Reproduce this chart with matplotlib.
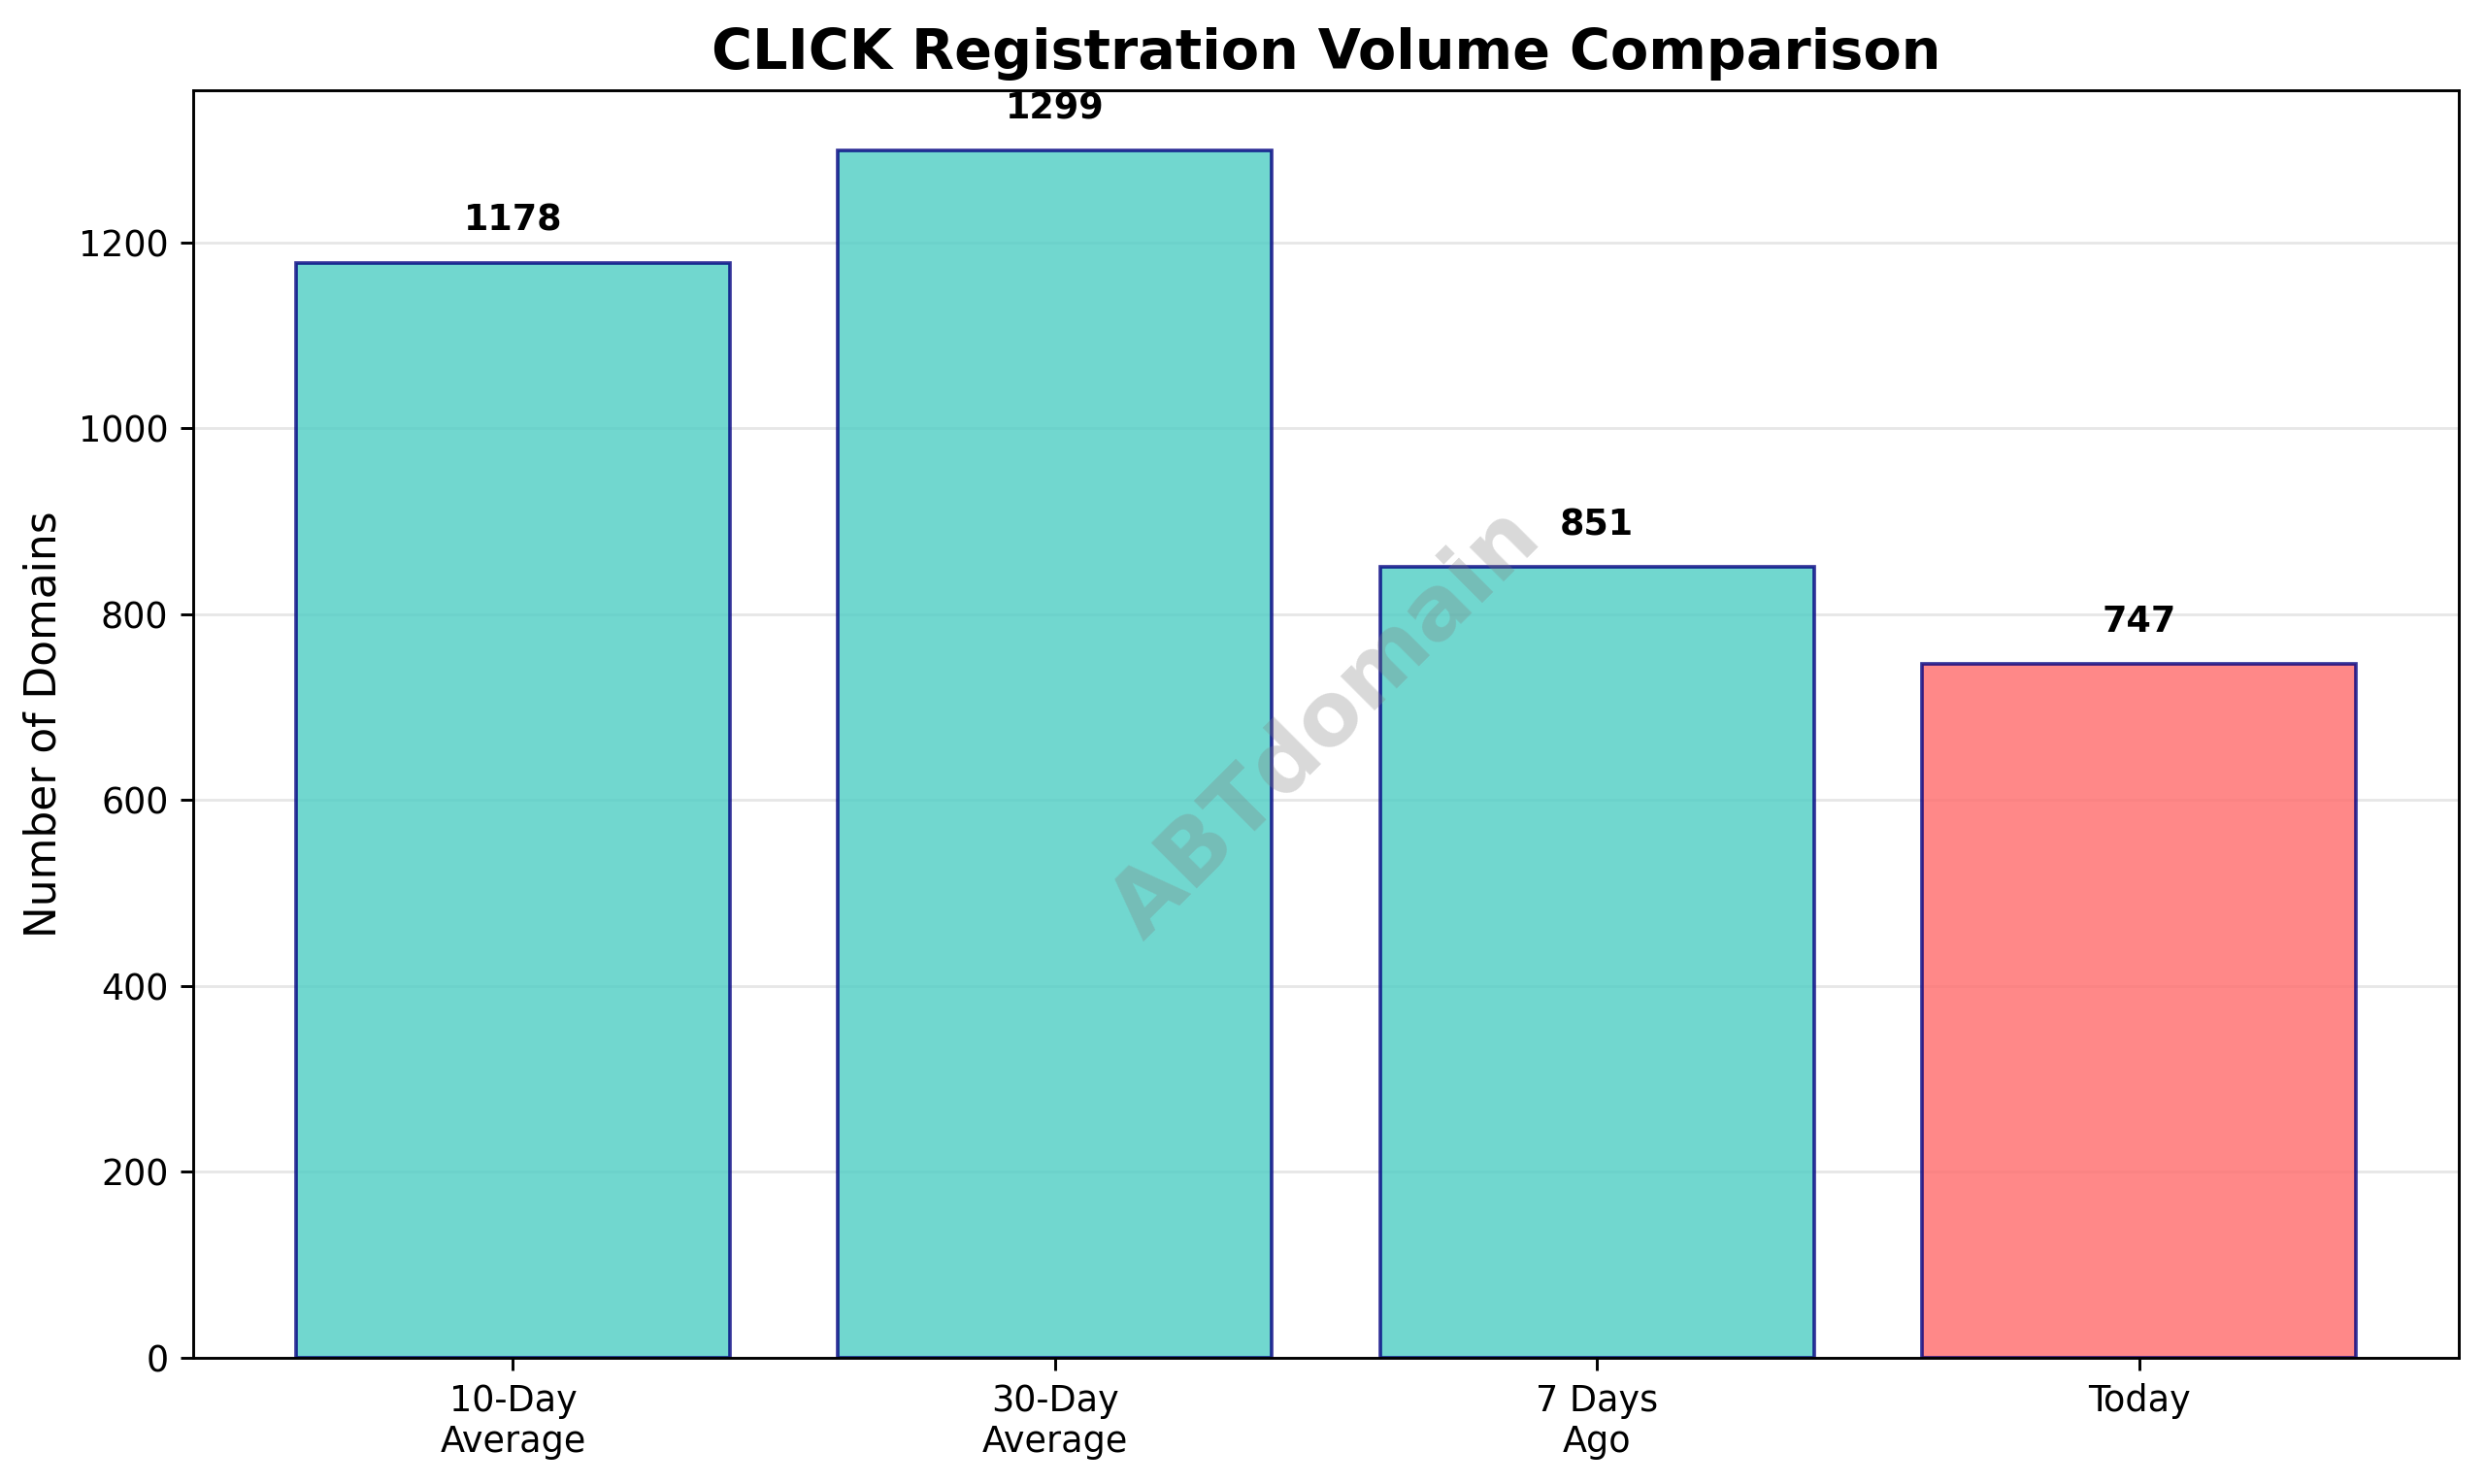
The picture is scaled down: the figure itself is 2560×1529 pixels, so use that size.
import matplotlib
matplotlib.use("Agg")
import matplotlib.pyplot as plt

categories = ["10-Day\nAverage", "30-Day\nAverage", "7 Days\nAgo", "Today"]
values = [1178, 1299, 851, 747]
bar_colors = ["#4ECDC4", "#4ECDC4", "#4ECDC4", "#FF6B6B"]

DPI = 263
fig = plt.figure(figsize=(2560 / DPI, 1529 / DPI), dpi=DPI)
ax = fig.add_axes([199 / 2560, 1 - 1399 / 1529, (2533 - 199) / 2560, (1399 - 92.7) / 1529])

x = list(range(len(categories)))
bars = ax.bar(x, values, color=bar_colors, alpha=0.8, edgecolor="navy", linewidth=1)

vmax = max(values)
for b, v in zip(bars, values):
    ax.text(b.get_x() + b.get_width() / 2, v + vmax * 0.02, f"{v}",
            ha="center", va="bottom", fontweight="bold", fontsize=10)

ax.set_xticks(x)
ax.set_xticklabels(categories, fontsize=10)
ax.set_ylim(0, vmax * 1.05)
ax.set_ylabel("Number of Domains", fontsize=12)
ax.set_title("CLICK Registration Volume Comparison", fontsize=15.7, fontweight="bold")
ax.grid(axis="y", alpha=0.3)
ax.set_axisbelow(True)

ax.text(0.5, 0.5, "ABTdomain", transform=ax.transAxes, fontsize=25, color="gray",
        alpha=0.3, ha="center", va="center", rotation=45, fontweight="bold", zorder=10)

fig.savefig("out.png", dpi=DPI)
